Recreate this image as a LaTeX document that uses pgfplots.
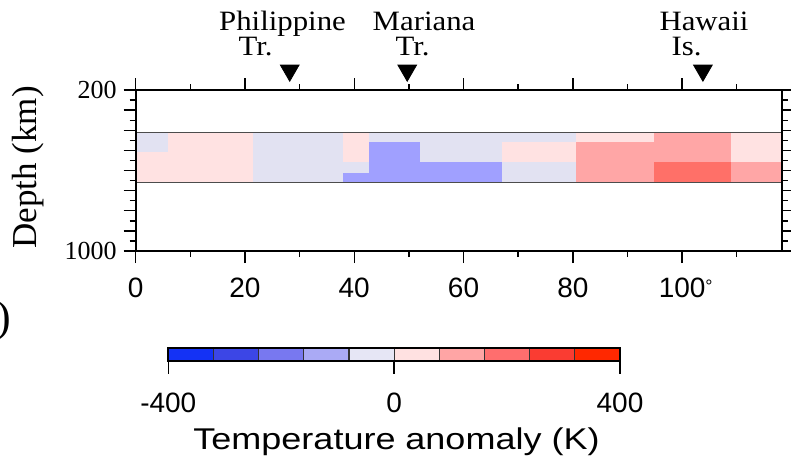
\documentclass[border=0pt]{standalone}
\usepackage{fontspec}
\setmainfont{Liberation Serif}
\newfontfamily\sansf{Liberation Sans}
\usepackage{pgfplots}
\pgfplotsset{compat=1.18}
\definecolor{lav}{HTML}{E2E2F2}
\definecolor{pink}{HTML}{FFE2E2}
\definecolor{cblue}{HTML}{A0A0FF}
\definecolor{redA}{HTML}{FFA6A6}
\definecolor{redB}{HTML}{FF7068}
\definecolor{cb1}{HTML}{1432F5}
\definecolor{cb2}{HTML}{3C46E6}
\definecolor{cb3}{HTML}{7878F0}
\definecolor{cb4}{HTML}{AAAAF5}
\definecolor{cb5}{HTML}{E6E6F5}
\definecolor{cb6}{HTML}{FFE1E1}
\definecolor{cb7}{HTML}{FFA5A5}
\definecolor{cb8}{HTML}{FF6E6E}
\definecolor{cb9}{HTML}{FA3C32}
\definecolor{cb10}{HTML}{FF2800}
\newcommand{\cell}[5]{\addplot[draw=none, fill=#5] coordinates {(#1,#3) (#2,#3) (#2,#4) (#1,#4)} -- cycle;}
\newcommand{\bin}[3]{\addplot[draw=black!80, line width=0.6pt, fill=#3] coordinates {(#1,0) (#2,0) (#2,1) (#1,1)} -- cycle;}
\begin{document}
\begin{tikzpicture}[x=1pt,y=1pt]
\path[use as bounding box] (0,0) rectangle (395.5,233.5);
\begin{axis}[
  at={(67.8pt,108pt)}, anchor=south west,
  scale only axis, width=323pt, height=80.5pt,
  xmin=0, xmax=118.2, ymin=200, ymax=1000, y dir=reverse,
  axis line style={line width=0.9pt},
  xtick={0,20,...,100}, minor xtick={10,30,...,110},
  xticklabels={0,20,40,60,80,100\rlap{\smash{\raisebox{0.35ex}{\fontsize{9}{10}\selectfont °}}}},
  ytick={200,300,...,1000}, minor ytick={250,350,...,950},
  yticklabels={200,,,,,,,,1000},
  tick align=outside,
  major tick length=6pt, minor tick length=3pt,
  every tick/.style={black, line width=0.7pt},
  x tick label style={font=\sansf\fontsize{14}{16}\selectfont, yshift=-4pt},
  y tick label style={font=\fontsize{13}{15}\selectfont},
  /pgf/number format/assume math mode=true,
  clip=false, axis on top,
]
\cell{0}{6}{410}{510}{lav}
\cell{0}{6}{510}{660}{pink}
\cell{6}{21.5}{410}{660}{pink}
\cell{21.5}{38}{410}{660}{lav}
\cell{38}{42.7}{410}{560}{pink}
\cell{38}{42.7}{560}{610}{lav}
\cell{38}{42.7}{610}{660}{cblue}
\cell{42.7}{52.1}{410}{460}{lav}
\cell{42.7}{52.1}{460}{660}{cblue}
\cell{52.1}{67.1}{410}{560}{lav}
\cell{52.1}{67.1}{560}{660}{cblue}
\cell{67.1}{80.6}{410}{460}{lav}
\cell{67.1}{80.6}{460}{560}{pink}
\cell{67.1}{80.6}{560}{660}{lav}
\cell{80.6}{94.9}{410}{460}{pink}
\cell{80.6}{94.9}{460}{660}{redA}
\cell{94.9}{108.9}{410}{560}{redA}
\cell{94.9}{108.9}{560}{660}{redB}
\cell{108.9}{118.2}{410}{560}{pink}
\cell{108.9}{118.2}{560}{660}{redA}
\addplot[black!70, line width=0.7pt] coordinates {(0,410) (118.2,410)};
\addplot[black!70, line width=0.7pt] coordinates {(0,660) (118.2,660)};
\addplot[only marks, mark=triangle*, mark size=5.4pt, mark options={rotate=180, fill=black, draw=black}] coordinates {(28.2,102.6) (49.7,102.6) (103.8,102.6)};
\end{axis}
\begin{axis}[
  at={(84.15pt,53.15pt)}, anchor=south west,
  scale only axis, width=225.85pt, height=6.2pt,
  xmin=-400, xmax=400, ymin=0, ymax=1,
  xtick={-400,0,400}, xticklabels={-400,0,400}, ytick=\empty,
  tick align=outside, tick pos=left,
  major tick length=6.6pt,
  every tick/.style={black, line width=0.7pt},
  axis line style={line width=0.9pt},
  x tick label style={font=\sansf\fontsize{14}{16}\selectfont, yshift=-6pt},
  clip=false, axis on top,
]
\bin{-400}{-320}{cb1}
\bin{-320}{-240}{cb2}
\bin{-240}{-160}{cb3}
\bin{-160}{-80}{cb4}
\bin{-80}{0}{cb5}
\bin{0}{80}{cb6}
\bin{80}{160}{cb7}
\bin{160}{240}{cb8}
\bin{240}{320}{cb9}
\bin{320}{400}{cb10}
\end{axis}
% text labels (1px = 0.5pt; y = (467-py)/2)
\node[font=\fontsize{14}{16}\selectfont, anchor=base] at (141.25,218.5) {\scalebox{1.1}[1]{Philippine}};
\node[font=\fontsize{14}{16}\selectfont, anchor=base] at (127.75,205.5) {\scalebox{1.1}[1]{Tr.}};
\node[font=\fontsize{14}{16}\selectfont, anchor=base] at (212,218.5) {\scalebox{1.1}[1]{Mariana}};
\node[font=\fontsize{14}{16}\selectfont, anchor=base] at (206.25,205.5) {\scalebox{1.1}[1]{Tr.}};
\node[font=\fontsize{14}{16}\selectfont, anchor=base] at (352,218.5) {\scalebox{1.1}[1]{Hawaii}};
\node[font=\fontsize{14}{16}\selectfont, anchor=base] at (343.35,205.5) {\scalebox{1.1}[1]{Is.}};
\node[font=\fontsize{17.5}{20}\selectfont, rotate=90] at (14,149.75) {Depth (km)};
\node[font=\fontsize{22}{24}\selectfont, anchor=east, inner sep=0pt] at (6,73) {)};
\node[font=\sansf\fontsize{15}{18}\selectfont] at (198.25,12.65) {\scalebox{1.2}[1]{Temperature anomaly (K)}};
\end{tikzpicture}
\end{document}
